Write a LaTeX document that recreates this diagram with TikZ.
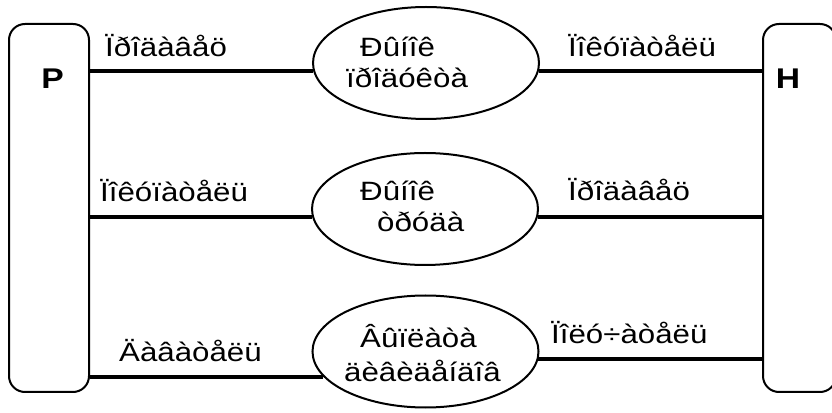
\documentclass[tikz,border=0pt]{standalone}
\usepackage{fontspec}
\setmainfont{Liberation Sans}
\newfontfamily\labfont{Liberation Sans}[FakeStretch=1.18]
\usetikzlibrary{shapes.geometric}
\begin{document}
\begin{tikzpicture}[x=1pt,y=1pt,
  sidebox/.style={draw, line width=2pt, rounded corners=16pt,
    minimum width=#1, minimum height=368pt, inner sep=0pt},
  market/.style={ellipse, draw, line width=2pt,
    minimum width=226pt, minimum height=112pt, inner sep=0pt},
  txt/.style={anchor=base west, inner sep=0pt,
    font=\labfont\fontsize{26.5pt}{32pt}\selectfont},
  big/.style={anchor=base, inner sep=0pt,
    font=\labfont\fontsize{28.5pt}{34pt}\selectfont\bfseries},
  conn/.style={line width=4pt}]
\useasboundingbox (0,0) rectangle (832,412);
\clip (0,0) rectangle (832,412);

% side blocks
\node[sidebox=80pt] (P) at (49,204) {};
\node[sidebox=73pt] (H) at (799.5,204) {};
\node[big] (Pt) at (52.5,323) {P};
\node[big] (Ht) at (788,323) {H};

% markets
\node[market] (e1) at (426,349) {};
\node[market] (e2) at (425,203) {};
\node[market] (e3) at (425.5,60.5) {};

\node[txt] (e1a) at (360,355) {Ðûíîê};
\node[txt] (e1b) at (346,324) {ïðîäóêòà};
\node[txt] (e2a) at (360,211) {Ðûíîê};
\node[txt] (e2b) at (377,180) {òðóäà};
\node[txt] (e3a) at (360,64) {Âûïëàòà};
\node[txt] (e3b) at (344,30) {äèâèäåíäîâ};

% connectors
\draw[conn] (P.east |- e1.184) -- (e1.184);
\draw[conn] (e1.356) -- (H.west |- e1.356);
\draw[conn] (P.east |- e2.184) -- (e2.184);
\draw[conn] (e2.356) -- (H.west |- e2.356);
\draw[conn] (P.east |- e3.194) -- (e3.194);
\draw[conn] (e3.356) -- (H.west |- e3.356);

% connector captions
\node[txt] (l1) at (105,355) {Ïðîäàâåö};
\node[txt] (l2) at (568,355) {Ïîêóïàòåëü};
\node[txt] (l3) at (100,210) {Ïîêóïàòåëü};
\node[txt] (l4) at (568,211) {Ïðîäàâåö};
\node[txt] (l5) at (119,50) {Äàâàòåëü};
\node[txt] (l6) at (551,68) {Ïîëó÷àòåëü};
\end{tikzpicture}
\end{document}
